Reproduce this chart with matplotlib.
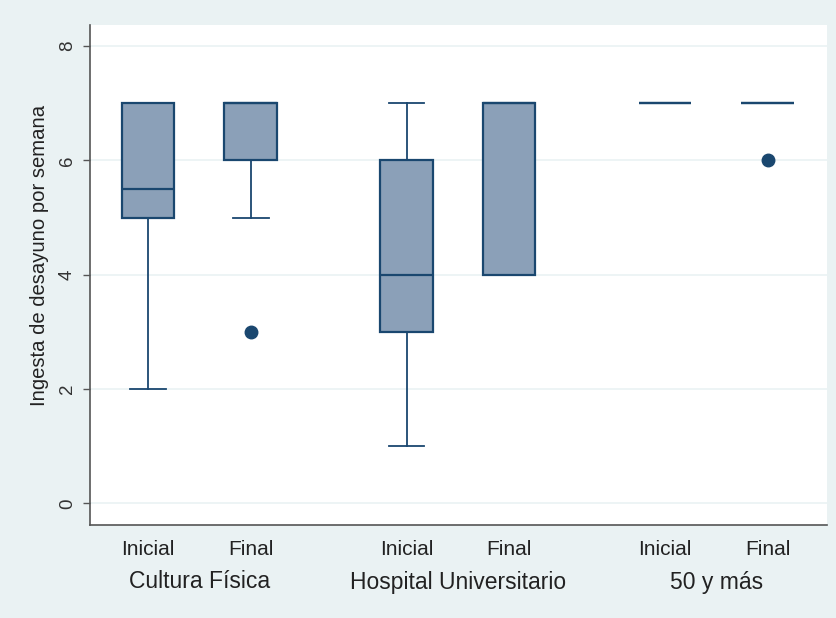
import matplotlib
matplotlib.use("Agg")
import matplotlib.pyplot as plt
import matplotlib.transforms as mtransforms

plt.rcParams['font.family'] = ['Liberation Sans', 'DejaVu Sans']

groups = ["Cultura Física", "Hospital Universitario", "50 y más"]
moments = ["Inicial", "Final"]
# per box: whislo, q1, med, q3, whishi, outliers
whislo = [2, 5, 1, 4, 7, 7]
q1 = [5, 6, 3, 4, 7, 7]
med = [5.5, 7, 4, 7, 7, 7]
q3 = [7, 7, 6, 7, 7, 7]
whishi = [7, 7, 7, 7, 7, 7]
fliers = [[], [3], [], [], [], [6]]
y_label = "Ingesta de desayuno por semana"
y_ticks = [0, 2, 4, 6, 8]

BG = "#EAF2F3"
NAVY = "#1a476f"
FILL = "#8ba0b8"

fig = plt.figure(figsize=(8.36, 6.18), dpi=100, facecolor=BG)
ax = fig.add_axes([90/836, 1-525/618, (827-90)/836, (525-25)/618])
ax.set_facecolor("white")

positions = []
stats = []
for g in range(len(groups)):
    for m in range(len(moments)):
        i = g*2 + m
        positions.append(g*2.52 + m)
        stats.append(dict(whislo=whislo[i], q1=q1[i], med=med[i], q3=q3[i],
                          whishi=whishi[i], fliers=fliers[i]))

ax.bxp(stats, positions=positions, widths=0.51, patch_artist=True,
       showfliers=True,
       boxprops=dict(facecolor=FILL, edgecolor=NAVY, linewidth=1.6),
       medianprops=dict(color=NAVY, linewidth=1.6),
       whiskerprops=dict(color=NAVY, linewidth=1.3),
       capprops=dict(color=NAVY, linewidth=1.3),
       capwidths=0.35,
       flierprops=dict(marker='o', markerfacecolor=NAVY, markeredgecolor=NAVY,
                       markersize=9))

ax.set_xlim(-0.566, 6.62)
ax.set_ylim(-0.38, 8.37)
ax.set_yticks(y_ticks)
ax.set_yticklabels([str(t) for t in y_ticks], rotation=90, va='center',
                   fontsize=13.5, color="#333333")
ax.yaxis.grid(True, color=BG, linewidth=1.2)
ax.set_axisbelow(True)
ax.tick_params(axis='y', length=5, width=1, color="#555555", pad=5)

ax.set_xticks(positions)
ax.set_xticklabels([moments[i % 2] for i in range(len(positions))],
                   fontsize=15, color="#222222")
ax.tick_params(axis='x', length=0, pad=11)

trans = mtransforms.blended_transform_factory(ax.transData, ax.transAxes)
for g, name in enumerate(groups):
    ax.text(g*2.52 + 0.5, -0.114, name, transform=trans, ha='center', va='center',
            fontsize=16.5, color="#222222")

ax.set_ylabel(y_label, fontsize=14.6, color="#222222")
ax.yaxis.set_label_coords(-(90-49)/737, (525-255)/500)

for s in ['top', 'right']:
    ax.spines[s].set_visible(False)
for s in ['left', 'bottom']:
    ax.spines[s].set_color("#555555")
    ax.spines[s].set_linewidth(1.2)

fig.savefig("out.png", dpi=100, facecolor=BG)
